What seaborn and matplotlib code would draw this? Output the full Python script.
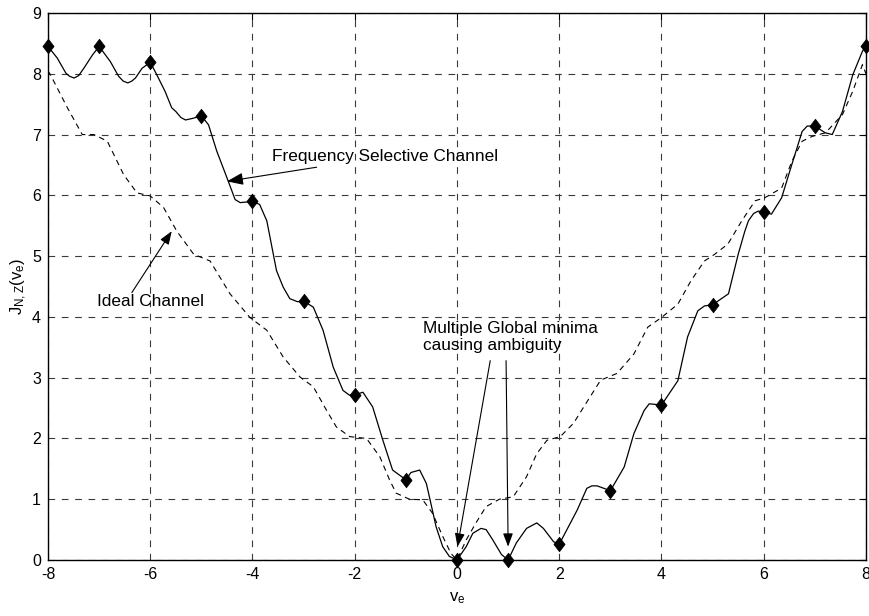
import numpy as np
import pandas as pd
import matplotlib
matplotlib.use("Agg")
import matplotlib.pyplot as plt
from matplotlib.path import Path
import seaborn as sns

# Cost function sampled at integer offsets (diamond markers)
marker_x = [-8, -7, -6, -5, -4, -3, -2, -1, 0, 1, 2, 3, 4, 5, 6, 7, 8]
marker_y = [8.45, 8.45, 8.19, 7.31, 5.90, 4.26, 2.71, 1.32, 0.00, 0.00,
            0.26, 1.14, 2.55, 4.20, 5.73, 7.14, 8.46]

# Frequency selective channel: values between the integer samples
fsc_x = [-7.82, -7.65, -7.58, -7.49, -7.40, -7.30, -7.13, -6.78, -6.62, -6.53,
         -6.44, -6.36, -6.29, -6.16, -5.87, -5.71, -5.58, -5.50, -5.40, -5.31,
         -5.15, -4.86, -4.70, -4.50, -4.34, -4.24, -3.86, -3.72, -3.53, -3.40,
         -3.27, -3.12, -2.81, -2.62, -2.42, -2.23, -2.10, -1.92, -1.84, -1.65,
         -1.45, -1.26, -0.90, -0.73, -0.60, -0.54, -0.41, -0.28, -0.15,
         0.18, 0.31, 0.47, 0.57, 0.70, 0.87, 1.16, 1.36, 1.56, 1.69, 1.89,
         2.35, 2.54, 2.64, 2.74, 3.27, 3.46, 3.66, 3.76, 4.32, 4.51, 4.71,
         4.84, 5.31, 5.50, 5.63, 5.70, 5.80, 5.89, 6.15, 6.35, 6.55, 6.75,
         6.85, 7.20, 7.34, 7.54, 7.74, 7.93]
fsc_y = [8.26, 8.01, 7.96, 7.93, 7.97, 8.09, 8.31, 8.20, 7.96, 7.88,
         7.85, 7.88, 7.93, 8.09, 7.98, 7.71, 7.44, 7.38, 7.28, 7.24,
         7.27, 7.16, 6.73, 6.29, 5.93, 5.88, 5.85, 5.58, 4.76, 4.49,
         4.30, 4.25, 4.16, 3.78, 3.17, 2.79, 2.71, 2.74, 2.76, 2.52,
         1.97, 1.48, 1.44, 1.48, 1.26, 1.04, 0.55, 0.22, 0.06,
         0.22, 0.44, 0.52, 0.50, 0.33, 0.09, 0.28, 0.52, 0.61, 0.52, 0.30,
         0.82, 1.18, 1.22, 1.22, 1.53, 2.08, 2.46, 2.57, 2.95, 3.67, 4.10,
         4.18, 4.38, 5.03, 5.41, 5.58, 5.70, 5.74, 5.69, 5.96, 6.51, 7.05,
         7.14, 7.03, 7.00, 7.38, 7.98, 8.37]

# Ideal channel
ideal_x = [-8.00, -7.95, -7.62, -7.33, -7.10, -6.84, -6.52, -6.26, -6.00, -5.74,
           -5.48, -5.15, -4.83, -4.44, -4.05, -3.72, -3.40, -3.07, -2.81, -2.55,
           -2.36, -2.10, -1.77, -1.51, -1.32, -1.19, -0.93, -0.67, -0.48, -0.28,
           -0.12, 0.00, 0.18, 0.37, 0.57, 0.83, 1.10, 1.36, 1.56, 1.76, 2.02,
           2.28, 2.48, 2.81, 3.13, 3.46, 3.73, 4.00, 4.32, 4.58, 4.84, 5.04,
           5.30, 5.57, 5.83, 6.02, 6.35, 6.55, 6.75, 6.95, 7.21, 7.54, 7.74,
           7.93, 8.00]
ideal_y = [8.05, 7.98, 7.44, 7.00, 7.00, 6.89, 6.34, 6.04, 5.99, 5.80,
           5.41, 5.03, 4.92, 4.38, 3.99, 3.78, 3.34, 3.01, 2.85, 2.46,
           2.19, 2.03, 2.00, 1.70, 1.32, 1.10, 1.00, 0.99, 0.77, 0.39,
           0.11, 0.00, 0.33, 0.61, 0.88, 1.00, 1.04, 1.37, 1.75, 1.97, 2.03,
           2.25, 2.52, 2.96, 3.07, 3.39, 3.83, 3.99, 4.21, 4.60, 4.92, 5.03,
           5.20, 5.58, 5.91, 5.96, 6.12, 6.56, 6.89, 6.97, 7.03, 7.33, 7.71,
           8.15, 8.00]

x_ticks = [-8, -6, -4, -2, 0, 2, 4, 6, 8]
y_ticks = [0, 1, 2, 3, 4, 5, 6, 7, 8, 9]

sns.set_style("white")
plt.rcParams["font.family"] = ["Liberation Sans", "DejaVu Sans"]
plt.rcParams["mathtext.fontset"] = "custom"
plt.rcParams["mathtext.rm"] = "Liberation Sans"
plt.rcParams["mathtext.it"] = "Liberation Sans"
plt.rcParams["axes.unicode_minus"] = False
plt.rcParams["text.color"] = "black"
plt.rcParams["axes.labelcolor"] = "black"

fsc = pd.DataFrame({"v": list(fsc_x) + list(marker_x),
                    "J": list(fsc_y) + list(marker_y)}).sort_values("v")
ideal = pd.DataFrame({"v": ideal_x, "J": ideal_y})
samples = pd.DataFrame({"v": marker_x, "J": marker_y})

fig = plt.figure(figsize=(8.7, 6.16), dpi=100)
ax = fig.add_axes([48 / 870, 56 / 616, 818 / 870, 547 / 616])

sns.lineplot(data=ideal, x="v", y="J", ax=ax, color="black", linewidth=0.8,
             linestyle=(0, (5, 4)), estimator=None, sort=False)
sns.lineplot(data=fsc, x="v", y="J", ax=ax, color="black", linewidth=0.9,
             estimator=None, sort=False)

diamond = Path([(0, 1.3), (1, 0), (0, -1.3), (-1, 0), (0, 1.3)],
               [Path.MOVETO, Path.LINETO, Path.LINETO, Path.LINETO, Path.CLOSEPOLY])
sns.scatterplot(data=samples, x="v", y="J", ax=ax, marker=diamond, s=110,
                color="black", edgecolor="black", linewidth=0.5, zorder=5,
                clip_on=False)

ax.set_xlim(-8, 8)
ax.set_ylim(0, 9)
ax.set_xticks(x_ticks)
ax.set_yticks(y_ticks)
ax.grid(True, color="#3a3a3a", linestyle=(0, (6, 6)), linewidth=0.8)
ax.tick_params(direction="in", length=5, width=0.8, top=True, right=True,
               labelsize=11.5, colors="black", pad=5)
for s in ax.spines.values():
    s.set_visible(True)
    s.set_color("black")
    s.set_linewidth(1.0)

ax.set_xlabel(r"$\mathrm{v_e}$", fontsize=12, labelpad=6)
ax.set_ylabel(r"$\mathrm{J_{N,Z}(v_e)}$", fontsize=12, labelpad=2)

arrow = dict(arrowstyle="-|>,head_length=0.8,head_width=0.3", color="black",
             linewidth=0.8, shrinkA=0, shrinkB=0)
ax.annotate("Frequency Selective Channel", xy=(-4.50, 6.23), xytext=(-3.62, 6.64),
            fontsize=12.4, va="center", ha="left", arrowprops=arrow)
ax.annotate("", xy=(-5.58, 5.41), xytext=(-6.36, 4.40), arrowprops=arrow)
ax.text(-7.05, 4.25, "Ideal Channel", fontsize=12.4, va="center", ha="left")
ax.text(-0.66, 3.67, "Multiple Global minima\ncausing ambiguity", fontsize=12.4,
        va="center", ha="left", linespacing=1.2)
ax.annotate("", xy=(0.01, 0.22), xytext=(0.65, 3.28), arrowprops=arrow)
ax.annotate("", xy=(1.00, 0.22), xytext=(0.96, 3.28), arrowprops=arrow)

fig.savefig("out.png", dpi=100)
